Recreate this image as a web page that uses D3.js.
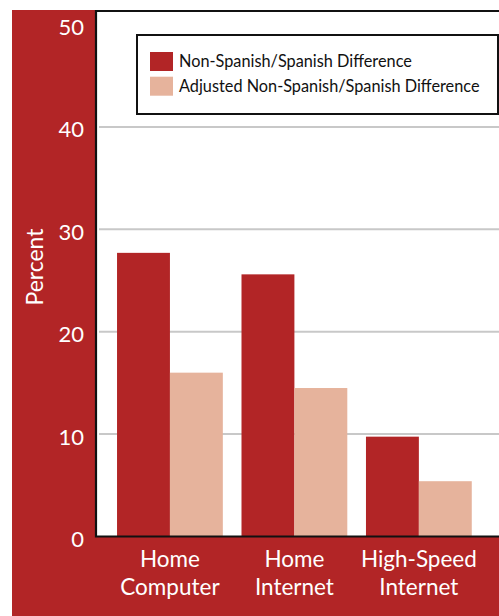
<!DOCTYPE html>
<html>
<head>
<meta charset="utf-8">
<script src="https://cdn.jsdelivr.net/npm/d3@7"></script>
<style>
  html, body { margin: 0; padding: 0; background: #ffffff; }
  svg { display: block; }
  text { font-family: "Lato", "Noto Sans", sans-serif; }
</style>
</head>
<body>
<svg id="chart" width="499" height="616"></svg>
<script>
// Gap in computer and internet access between non-Spanish and Spanish speakers
const categories = ["Home Computer", "Home Internet", "High-Speed Internet"];
const categoryLines = [["Home", "Computer"], ["Home", "Internet"], ["High-Speed", "Internet"]];
const seriesNames = ["Non-Spanish/Spanish Difference", "Adjusted Non-Spanish/Spanish Difference"];
const differenceValues = [27.7, 25.6, 9.75];
const adjustedValues = [16.0, 14.5, 5.4];
const yTicks = [0, 10, 20, 30, 40, 50];

const RED = "#b22526";
const PEACH = "#e6b39c";
const seriesColors = [RED, PEACH];

const W = 499, H = 616;
const plot = { left: 96, top: 11, bottom: 536.5, right: 520 };

const svg = d3.select("#chart");

// dark red panel behind everything
svg.append("rect")
  .attr("x", 12).attr("y", 10)
  .attr("width", W - 12).attr("height", H - 10)
  .attr("fill", RED);

// white plotting area
svg.append("rect")
  .attr("x", plot.left).attr("y", plot.top)
  .attr("width", plot.right - plot.left).attr("height", plot.bottom - plot.top)
  .attr("fill", "#ffffff");

const y = d3.scaleLinear().domain([0, 50]).range([plot.bottom, plot.bottom - 512]);

const x = d3.scaleBand()
  .domain(categories)
  .range([plot.left, 492.8])
  .paddingInner(0.15)
  .paddingOuter(0.169);

const xSub = d3.scaleBand()
  .domain(seriesNames)
  .range([0, x.bandwidth()]);

// horizontal gridlines
svg.append("g")
  .selectAll("line")
  .data(yTicks.filter(t => t > 0 && t < 50))
  .join("line")
  .attr("x1", plot.left + 3).attr("x2", W)
  .attr("y1", d => y(d)).attr("y2", d => y(d))
  .attr("stroke", "#c8c8c8")
  .attr("stroke-width", 2);

// bars
const rows = categories.map((c, i) => ({
  category: c,
  values: [differenceValues[i], adjustedValues[i]]
}));

const groups = svg.append("g")
  .selectAll("g")
  .data(rows)
  .join("g")
  .attr("transform", d => `translate(${x(d.category)},0)`);

groups.selectAll("rect")
  .data(d => d.values.map((v, j) => ({ series: seriesNames[j], value: v, color: seriesColors[j] })))
  .join("rect")
  .attr("x", d => xSub(d.series))
  .attr("width", xSub.bandwidth())
  .attr("y", d => y(d.value))
  .attr("height", d => plot.bottom - y(d.value))
  .attr("fill", d => d.color);

// plot frame: left, top and baseline
svg.append("path")
  .attr("d", `M${W + 2},${plot.top} H${plot.left} V${plot.bottom} H${W + 2}`)
  .attr("fill", "none")
  .attr("stroke", "#111111")
  .attr("stroke-width", 2.2);

// y axis labels
const yAxis = d3.axisLeft(y).tickValues(yTicks).tickSize(0).tickPadding(12).tickFormat(d3.format("d"));
const gy = svg.append("g")
  .attr("transform", `translate(${plot.left},0)`)
  .call(yAxis);
gy.select(".domain").remove();
gy.selectAll("text")
  .attr("fill", "#ffffff")
  .attr("font-size", 22)
  .attr("font-family", "Lato, 'Noto Sans', sans-serif")
  .attr("dy", "0.32em")
  .attr("transform", "translate(0,3)");

// y axis title
svg.append("text")
  .attr("transform", `translate(43,${(227 + 307) / 2}) rotate(-90)`)
  .attr("text-anchor", "middle")
  .attr("fill", "#ffffff")
  .attr("font-size", 23)
  .text("Percent");

// category labels on two lines
const xLabels = svg.append("g")
  .selectAll("text")
  .data(categories)
  .join("text")
  .attr("x", d => x(d) + x.bandwidth() / 2)
  .attr("y", 567)
  .attr("text-anchor", "middle")
  .attr("fill", "#ffffff")
  .attr("font-size", 22.5);
xLabels.each(function(d, i) {
  const t = d3.select(this);
  categoryLines[i].forEach((line, k) => {
    t.append("tspan")
      .attr("x", x(d) + x.bandwidth() / 2)
      .attr("dy", k === 0 ? 0 : 28)
      .text(line);
  });
});

// legend
const legend = svg.append("g");
legend.append("rect")
  .attr("x", 137).attr("y", 35)
  .attr("width", 361).attr("height", 79)
  .attr("fill", "#ffffff")
  .attr("stroke", "#111111")
  .attr("stroke-width", 2);

const legendItems = legend.selectAll("g.item")
  .data(seriesNames)
  .join("g")
  .attr("class", "item")
  .attr("transform", (d, i) => `translate(150,${52 + i * 24.7})`);

legendItems.append("rect")
  .attr("width", 23).attr("height", 19)
  .attr("fill", (d, i) => seriesColors[i]);

legendItems.append("text")
  .attr("x", 29).attr("y", 15)
  .attr("font-size", 16.3)
  .attr("fill", "#111111")
  .text(d => d);
</script>
</body>
</html>
